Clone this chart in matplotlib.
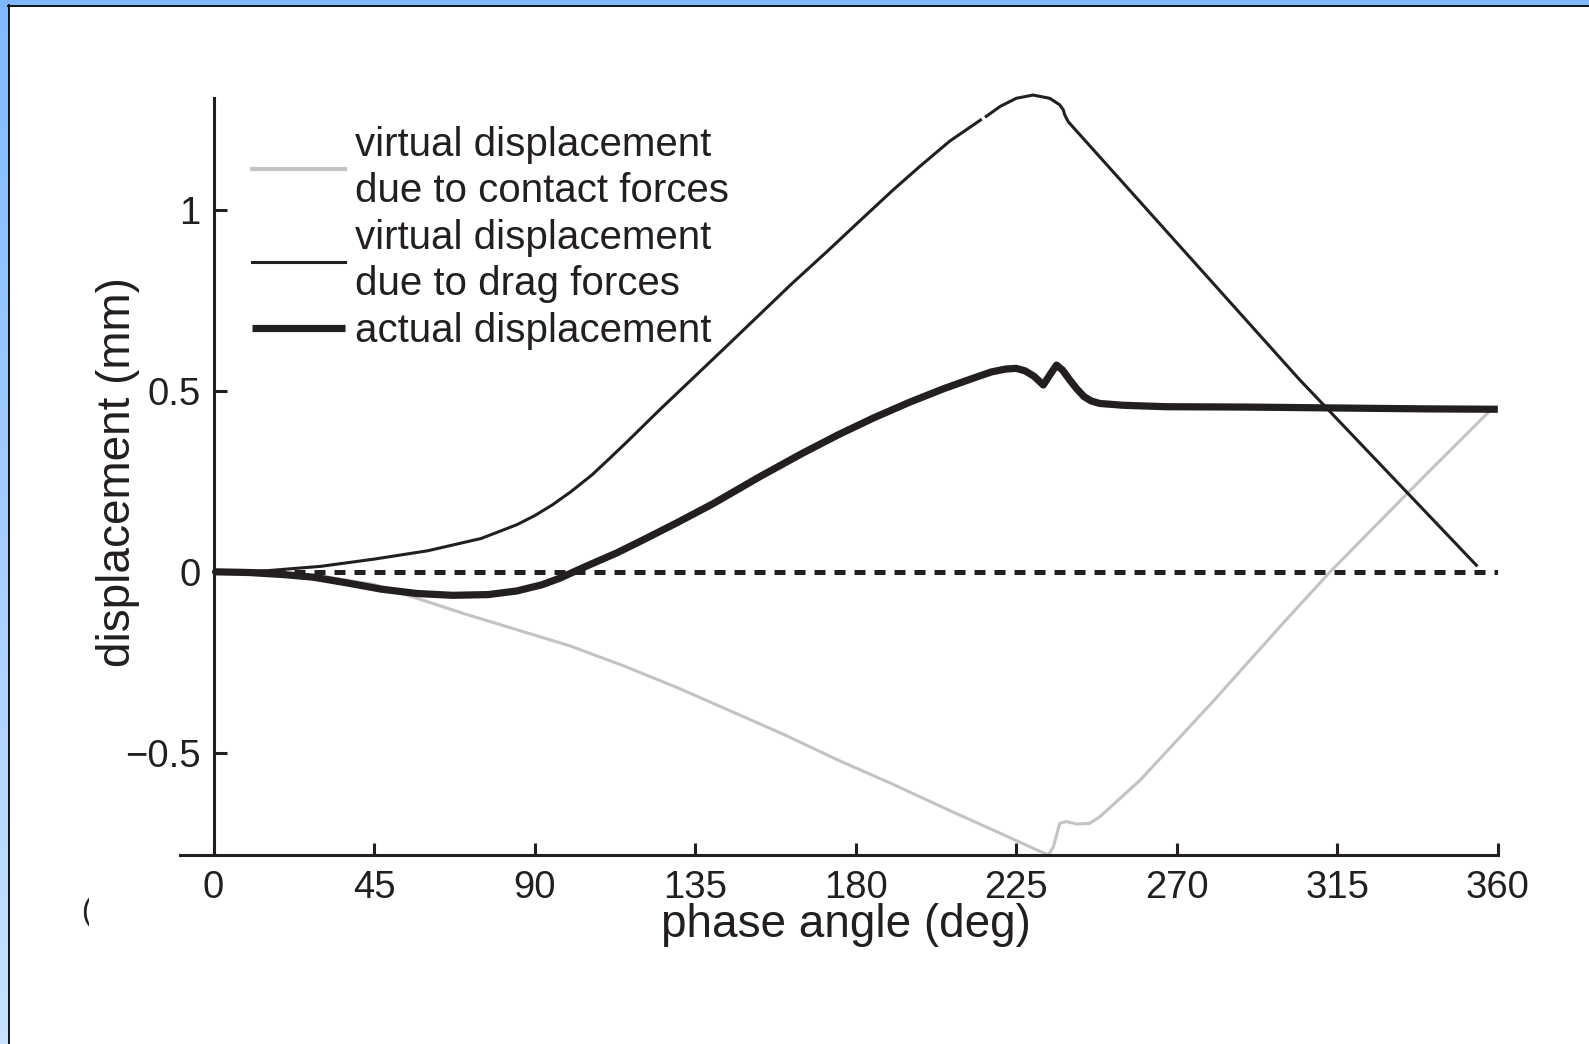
import matplotlib.pyplot as plt
import matplotlib
import numpy as np
from matplotlib.patches import Rectangle
from matplotlib.lines import Line2D

matplotlib.rcParams['font.family'] = ['Liberation Sans', 'DejaVu Sans']
matplotlib.rcParams['axes.unicode_minus'] = True

INK = "#231f20"
GRAY = "#c3c3c3"

# virtual displacement due to drag forces (thin black), nan = small break in the trace
drag_deg = [0, 15, 30, 45, 60, 75, 85, 90, 95, 100, 106, 111, 116, 125, 134.4, 144, 153,
            162, 172, 181, 190.5, 198, 206.4, 215, 215.8, 216.6, 220.4, 225, 229.7, 234.4,
            237.2, 238.2, 238.6, 239.6, 304.5, 354]
drag_mm = [0, 0.003, 0.015, 0.035, 0.058, 0.092, 0.13, 0.155, 0.185, 0.22, 0.267, 0.313,
           0.36, 0.447, 0.535, 0.625, 0.71, 0.795, 0.885, 0.968, 1.055, 1.12, 1.19, 1.248,
           np.nan, 1.258, 1.285, 1.308, 1.317, 1.308, 1.29, 1.276, 1.262, 1.243, 0.53, 0.018]

# virtual displacement due to contact forces (gray)
contact_deg = [0, 15, 30, 45, 56, 70, 85, 100, 115, 130, 145, 160, 175, 190, 206, 220,
               230, 234, 235.4, 237.2, 239, 242, 245.6, 248.4, 259.7, 280, 300, 313, 340, 357.5]
contact_mm = [0, -0.003, -0.012, -0.035, -0.07, -0.115, -0.16, -0.205, -0.26, -0.32,
              -0.385, -0.45, -0.52, -0.585, -0.658, -0.72, -0.765, -0.782, -0.76, -0.695,
              -0.69, -0.697, -0.695, -0.677, -0.576, -0.36, -0.14, 0.0, 0.27, 0.442]

# actual displacement (thick black)
actual_deg = [0, 10, 20, 28, 37, 47, 57, 67, 77, 85, 92, 97, 101, 106, 113, 120.4, 130,
              140, 153, 165, 175, 185, 195, 205, 213, 218, 222, 225, 227.5, 230, 232.6,
              234.5, 236.3, 238, 240, 242, 244, 246, 248.4, 255, 267, 290, 320, 340, 360]
actual_mm = [0, -0.002, -0.008, -0.015, -0.03, -0.048, -0.06, -0.065, -0.063, -0.053,
             -0.036, -0.018, 0.0, 0.022, 0.052, 0.088, 0.136, 0.188, 0.262, 0.327, 0.378,
             0.425, 0.468, 0.507, 0.535, 0.552, 0.56, 0.562, 0.555, 0.54, 0.516, 0.545,
             0.571, 0.557, 0.53, 0.505, 0.484, 0.472, 0.465, 0.46, 0.456, 0.455, 0.452,
             0.45, 0.449]

zero_deg = [0, 360]
zero_mm = [0, 0]

x_ticks = [0, 45, 90, 135, 180, 225, 270, 315, 360]
y_ticks = [-0.5, 0, 0.5, 1]
y_tick_labels = ["\u22120.5", "0", "0.5", "1"]

legend_labels = ["virtual displacement\ndue to contact forces",
                 "virtual displacement\ndue to drag forces",
                 "actual displacement"]

W, H = 1589, 1044
fig = plt.figure(figsize=(W / 100, H / 100), dpi=100)
fig.patch.set_facecolor("white")

# slide frame: blue band left/top with a thin black edge
grad = np.linspace(0, 1, H)[:, None]
band = np.zeros((H, 8, 3))
band[..., 0] = (128 + 72 * grad) / 255
band[..., 1] = (184 + 42 * grad) / 255
band[..., 2] = 1.0
fig.figimage(band, xo=0, yo=0, origin="upper", zorder=0)
fig.add_artist(Rectangle((0, 1 - 5 / H), 1, 5 / H, transform=fig.transFigure,
                         facecolor="#80b8ff", edgecolor="none", zorder=1))
fig.add_artist(Line2D([8.5 / W, 8.5 / W], [0, 1 - 5 / H], transform=fig.transFigure,
                      color="black", lw=1.3, zorder=2))
fig.add_artist(Line2D([8 / W, 1], [1 - 5.5 / H, 1 - 5.5 / H], transform=fig.transFigure,
                      color="black", lw=1.3, zorder=2))

ax = fig.add_axes([180.4 / W, 1 - 854.5 / H, 1317.4 / W, 756.2 / H])
ax.set_facecolor("none")

ax.plot(contact_deg, contact_mm, color=GRAY, lw=2.2, label=legend_labels[0], zorder=2,
        clip_on=False)
ax.plot(zero_deg, zero_mm, color=INK, lw=3.6, dashes=(2.2, 1.8), zorder=3)
ax.plot(drag_deg, drag_mm, color=INK, lw=2.2, label=legend_labels[1], zorder=4,
        clip_on=False)
ax.plot(actual_deg, actual_mm, color=INK, lw=5.2, label=legend_labels[2], zorder=5,
        solid_capstyle="butt")

ax.set_xlim(-9.3, 360)
ax.set_ylim(-0.781, 1.308)

for s in ["top", "right"]:
    ax.spines[s].set_visible(False)
ax.spines["left"].set_position(("data", 0))
for s in ["left", "bottom"]:
    ax.spines[s].set_linewidth(2.2)
    ax.spines[s].set_color(INK)

ax.set_xticks(x_ticks)
ax.set_xticklabels([str(t) for t in x_ticks])
ax.set_yticks(y_ticks)
ax.set_yticklabels(y_tick_labels)
ax.tick_params(direction="in", length=9, width=2.2, color=INK, labelcolor=INK, labelsize=27.5)
ax.tick_params(axis="x", pad=11)
ax.tick_params(axis="y", pad=9.5)

# the axis title sits tight under the tick numbers, as in the original figure
ax.set_xlabel("phase angle (deg)", fontsize=33, color=INK)
ax.xaxis.set_label_coords(0.505, -0.064)
ax.set_ylabel("displacement (mm)", fontsize=33, color=INK)
ax.yaxis.set_label_coords(-0.031, 0.506)

leg = ax.legend(loc="upper left", bbox_to_anchor=(0.054, 0.963), frameon=False,
                fontsize=29, handlelength=2.31, handletextpad=0.25, borderpad=0,
                borderaxespad=0, labelspacing=0.22, labelcolor=INK)
for t in leg.get_texts():
    t.set_linespacing(1.27)
leg.get_lines()[0].set_linewidth(3.0)

# clipped panel letter left over at the lower left
fig.text(86 / W, 1 - 912 / H, "(", fontsize=22, color=INK, ha="center", va="center")
fig.add_artist(Rectangle((89 / W, 1 - 935 / H), 20 / W, 45 / H, transform=fig.transFigure,
                         facecolor="white", edgecolor="none", zorder=5))

fig.savefig("out.png", dpi=100)
